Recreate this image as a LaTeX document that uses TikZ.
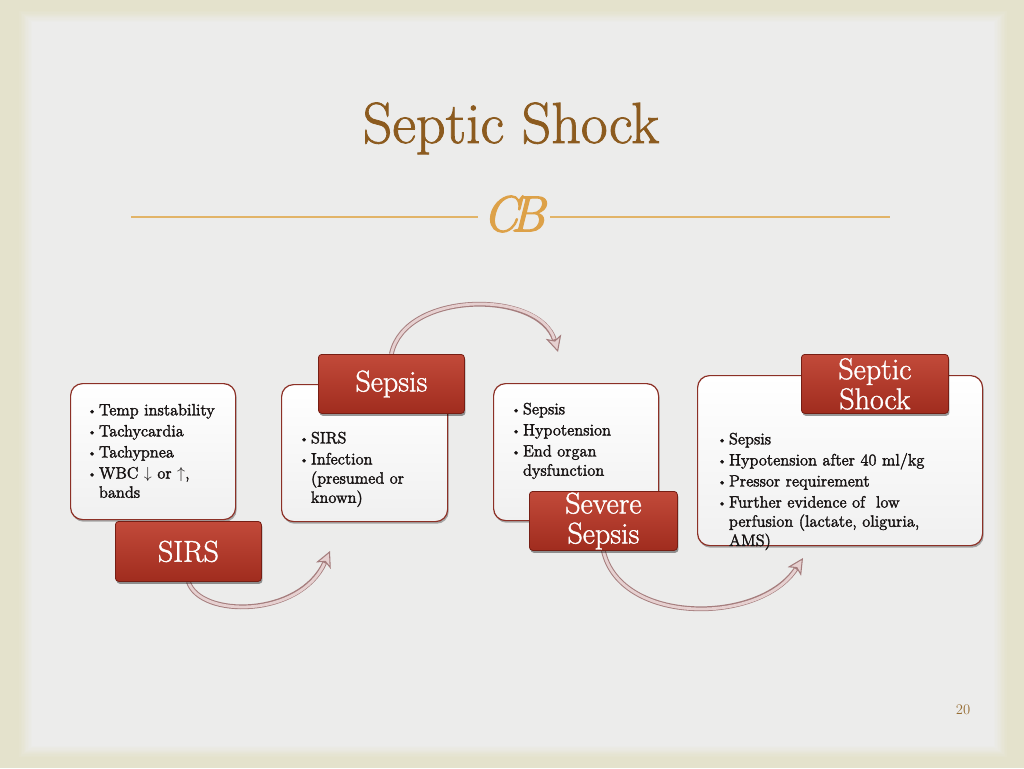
\documentclass[tikz,border=0pt]{standalone}
\usepackage{fontspec}
\usetikzlibrary{shadows,arrows.meta}
\pgfdeclarelayer{bg}
\pgfdeclarelayer{arr}
\pgfsetlayers{bg,arr,main}
\newfontfamily\bodyfnt{Latin Modern Roman}[FakeBold=2.0]
\newfontfamily\labelfnt{Latin Modern Roman}[FakeBold=1.3]
\newfontfamily\titlefnt{Latin Modern Roman}[FakeBold=1.3]
\newfontfamily\ornfnt{Latin Modern Roman}[FakeBold=2.0]
\definecolor{bgout}{RGB}{228,226,204}
\definecolor{bgin}{RGB}{236,236,235}
\definecolor{titlecol}{RGB}{140,91,31}
\definecolor{linecol}{RGB}{226,180,104}
\definecolor{ornacol}{RGB}{221,161,72}
\definecolor{redtop}{RGB}{194,74,58}
\definecolor{redbot}{RGB}{160,44,30}
\definecolor{redline}{RGB}{118,30,20}
\definecolor{wbot}{RGB}{240,240,240}
\definecolor{wline}{RGB}{140,48,38}
\definecolor{txtcol}{RGB}{22,18,18}
\definecolor{arrdark}{RGB}{165,125,125}
\definecolor{arrlight}{RGB}{230,208,208}
\definecolor{pagecol}{RGB}{150,108,50}
\newlength{\bind}
\setlength{\bind}{8.8pt}
\newcommand{\bitem}[1]{\setlength{\parskip}{1.4pt}\par\noindent\hangindent=\bind\hangafter=1\strut\makebox[\bind][l]{\raisebox{0.7pt}{\small\textbullet}}#1}
\begin{document}
\begin{tikzpicture}[x=0.75pt,y=-0.75pt,
  wbox/.style={draw=wline, line width=0.9pt, rounded corners=9pt, top color=white, bottom color=wbot,
    anchor=north west, inner sep=0pt,
    drop shadow={shadow xshift=0.8pt, shadow yshift=-1.6pt, opacity=0.3, fill=black}},
  rbox/.style={draw=redline, line width=0.6pt, rounded corners=2.5pt, top color=redtop, bottom color=redbot,
    anchor=north west, inner sep=0pt, text=white, align=center,
    font=\labelfnt\fontsize{22.5}{22.5}\selectfont,
    drop shadow={shadow xshift=0.8pt, shadow yshift=-1.8pt, opacity=0.4, fill=black}},
  txt/.style={anchor=north west, inner sep=0pt, text width=230pt, align=left, text=txtcol,
    font=\bodyfnt\fontsize{12.3}{14.4}\selectfont},
  arrout/.style={draw=arrdark, line width=3.6pt,
    -{Stealth[length=12pt, width=12pt, inset=3pt, fill=arrlight, line width=0.8pt]}},
  arrin/.style={draw=arrlight, line width=2.1pt, shorten >=10pt}
]
\useasboundingbox (0,0) rectangle (1024,768);
% background
\begin{pgfonlayer}{bg}
\fill[bgout] (0,0) rectangle (1024,768);
\foreach \i in {0,...,10}{
  \pgfmathtruncatemacro\p{10*\i}
  \fill[bgin!\p!bgout] (18+1.4*\i,10+1.2*\i) rectangle (1008-1.4*\i,758-1.2*\i);
}
\end{pgfonlayer}
% title
\node[anchor=base, inner sep=0pt, text=titlecol, font=\titlefnt\fontsize{43.5}{46}\selectfont] (title) at (511,143) {Septic Shock};
\coordinate (l1) at (131,217);
\coordinate (l2) at (478,217);
\coordinate (l3) at (550,217);
\coordinate (l4) at (890,217);
\draw[linecol, line width=1pt] (l1) -- (l2);
\draw[linecol, line width=1pt] (l3) -- (l4);
\node[inner sep=0pt, text=ornacol, font=\ornfnt\fontsize{38}{40}\selectfont\itshape] (orn) at (514,214) {C\kern-0.16em B};
% boxes
\node[wbox, minimum width=165*0.75pt, minimum height=136*0.75pt] (box1) at (70,383) {};
\node[rbox, minimum width=146*0.75pt, minimum height=60*0.75pt] (sirs) at (115,521) {SIRS};
\node[wbox, minimum width=166*0.75pt, minimum height=137*0.75pt] (box2) at (281,384) {};
\node[rbox, minimum width=146*0.75pt, minimum height=59*0.75pt] (sepsis) at (318,354) {Sepsis};
\node[wbox, minimum width=165*0.75pt, minimum height=137*0.75pt] (box3) at (493,383) {};
\node[rbox, minimum width=148*0.75pt, minimum height=59*0.75pt] (severe) at (529,491) {Severe\\Sepsis};
\node[wbox, minimum width=285*0.75pt, minimum height=170*0.75pt] (box4) at (697,375) {};
\node[rbox, minimum width=147*0.75pt, minimum height=59*0.75pt] (shock) at (801,354) {Septic\\Shock};
% texts
\node[txt] (t1) at (87,394) {\bitem{Temp instability}\bitem{Tachycardia}\bitem{Tachypnea}\bitem{WBC $\downarrow$ or $\uparrow$,\break bands}\par};
\node[txt] (t2) at (299,422) {\bitem{SIRS}\bitem{Infection\break (presumed or\break known)}\par};
\node[txt] (t3) at (511,393) {\bitem{Sepsis}\bitem{Hypotension}\bitem{End organ\break dysfunction}\par};
\node[txt] (t4) at (717,423) {\bitem{Sepsis}\bitem{Hypotension after 40 ml/kg}\bitem{Pressor requirement}\bitem{Further evidence of\ \ low\break perfusion (lactate, oliguria,\break AMS)}\par};
% arrows
\coordinate (a1) at (330,551);
\coordinate (a2) at (558,352);
\coordinate (a3) at (803,558);
\begin{pgfonlayer}{arr}
\draw[arrout] (sirs.south) .. controls (200,618) and (300,618) .. (a1);
\draw[arrin] (sirs.south) .. controls (200,618) and (300,618) .. (a1);
\draw[arrout] (sepsis.north) .. controls (405,290) and (540,290) .. (a2);
\draw[arrin] (sepsis.north) .. controls (405,290) and (540,290) .. (a2);
\draw[arrout] (severe.south) .. controls (620,625) and (760,625) .. (a3);
\draw[arrin] (severe.south) .. controls (620,625) and (760,625) .. (a3);
\end{pgfonlayer}
% page number
\node[inner sep=0pt, text=pagecol, font=\fontsize{11}{12}\selectfont] (page) at (963,710) {20};
\end{tikzpicture}
\end{document}
